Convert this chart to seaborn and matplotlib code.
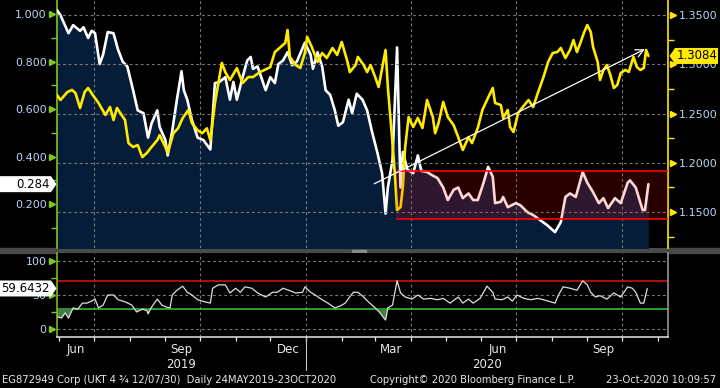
import pandas as pd
import matplotlib
matplotlib.use("Agg")
import matplotlib.pyplot as plt
import matplotlib.dates as mdates
from matplotlib.patches import Polygon, Rectangle
from matplotlib.transforms import IdentityTransform
import seaborn as sns

# x axis: day offsets from the first plotted day
start = pd.Timestamp("2019-05-30")
span_days = 530

# bond price index (left axis, white line with navy area)
white_days = [0, 3, 10, 14, 20, 23, 27, 30, 33, 37,
              40, 44, 49, 53, 57, 61, 66, 70, 75, 79,
              82, 87, 89, 94, 96, 100, 104, 108, 110, 113,
              117, 122, 127, 133, 137, 141, 146, 150, 153, 156,
              161, 165, 168, 170, 174, 181, 185, 189, 192, 196,
              200, 204, 208, 215, 220, 222, 226, 230, 233, 237,
              241, 244, 248, 253, 256, 260, 265, 269, 273, 278,
              282, 285, 287, 291, 295, 297, 298, 300, 304, 309,
              313, 316, 321, 326, 330, 335, 339, 344, 348, 352,
              357, 361, 365, 370, 374, 378, 380, 385, 387, 391,
              398, 402, 408, 413, 419, 425, 432, 437, 441, 445,
              450, 456, 460, 465, 470, 474, 478, 484, 489, 495,
              497, 502, 508, 510, 513]
white_vals = [1.017, 0.996, 0.92, 0.954, 0.93, 0.945, 0.90, 0.93, 0.92, 0.79,
              0.83, 0.925, 0.92, 0.85, 0.80, 0.78, 0.68, 0.595, 0.583, 0.48,
              0.54, 0.595, 0.525, 0.47, 0.405, 0.51, 0.64, 0.76, 0.68, 0.64,
              0.555, 0.48, 0.47, 0.43, 0.71, 0.715, 0.735, 0.64, 0.715, 0.64,
              0.735, 0.805, 0.82, 0.77, 0.78, 0.68, 0.735, 0.71, 0.79, 0.805,
              0.84, 0.785, 0.80, 0.88, 0.83, 0.77, 0.84, 0.78, 0.68, 0.66,
              0.595, 0.53, 0.545, 0.64, 0.583, 0.665, 0.64, 0.595, 0.51, 0.415,
              0.33, 0.16, 0.27, 0.385, 0.86, 0.455, 0.27, 0.42, 0.345, 0.33,
              0.405, 0.34, 0.335, 0.32, 0.31, 0.27, 0.217, 0.26, 0.27, 0.225,
              0.245, 0.217, 0.217, 0.29, 0.357, 0.315, 0.204, 0.21, 0.23, 0.187,
              0.204, 0.195, 0.166, 0.154, 0.133, 0.112, 0.082, 0.124, 0.23, 0.245,
              0.23, 0.335, 0.29, 0.25, 0.204, 0.225, 0.183, 0.225, 0.204, 0.29,
              0.30, 0.27, 0.175, 0.175, 0.284]

# GBPUSD (right axis, yellow)
fx_days = [0, 3, 9, 13, 16, 20, 24, 27, 31, 36,
           42, 46, 49, 52, 56, 59, 62, 66, 70, 74,
           78, 82, 87, 89, 94, 96, 101, 105, 109, 114,
           117, 122, 126, 130, 133, 137, 140, 143, 146, 150,
           156, 161, 166, 170, 176, 185, 189, 194, 198, 200,
           202, 207, 211, 215, 217, 221, 226, 230, 234, 239,
           243, 247, 252, 254, 259, 261, 266, 269, 272, 276,
           279, 285, 287, 291, 293, 295, 298, 300, 302, 305,
           309, 313, 317, 321, 326, 328, 331, 335, 339, 344,
           348, 352, 357, 360, 365, 369, 373, 378, 380, 385,
           387, 391, 393, 396, 400, 404, 409, 413, 418, 422,
           426, 430, 434, 437, 441, 445, 448, 451, 454, 457,
           460, 463, 465, 469, 471, 474, 477, 480, 483, 486,
           489, 493, 496, 500, 503, 506, 509, 511, 513]
fx_vals = [1.2688, 1.2637, 1.2718, 1.2739, 1.2708, 1.2556, 1.2718, 1.2759, 1.2688, 1.2607,
           1.2485, 1.2566, 1.2434, 1.2556, 1.2485, 1.2434, 1.2200, 1.2160, 1.2180, 1.2058,
           1.2100, 1.2160, 1.2230, 1.2280, 1.2160, 1.2100, 1.2300, 1.2350, 1.2454, 1.2536,
           1.2404, 1.2330, 1.2300, 1.2350, 1.2230, 1.2607, 1.2810, 1.3013, 1.2920, 1.2840,
           1.2960, 1.2810, 1.2870, 1.2870, 1.2920, 1.2970, 1.3124, 1.3175, 1.3216, 1.3348,
           1.3074, 1.2992, 1.2962, 1.3114, 1.3277, 1.3175, 1.3023, 1.3114, 1.3063, 1.3165,
           1.3094, 1.3226, 1.3023, 1.2920, 1.2992, 1.3074, 1.2992, 1.2920, 1.2992, 1.2870,
           1.2769, 1.3145, 1.2769, 1.2200, 1.1896, 1.1520, 1.1550, 1.1754, 1.2160, 1.2464,
           1.2363, 1.2454, 1.2353, 1.2637, 1.2464, 1.2300, 1.2404, 1.2617, 1.2464, 1.2383,
           1.2261, 1.2130, 1.2261, 1.2200, 1.2353, 1.2536, 1.2637, 1.2759, 1.2607, 1.2586,
           1.2454, 1.2536, 1.2363, 1.2312, 1.2505, 1.2566, 1.2637, 1.2566, 1.2739, 1.2870,
           1.3023, 1.3114, 1.3124, 1.3165, 1.3063, 1.3145, 1.3246, 1.3124, 1.3216, 1.3317,
           1.3398, 1.3327, 1.3175, 1.3023, 1.2840, 1.2942, 1.2992, 1.2890, 1.2759, 1.2790,
           1.2911, 1.2942, 1.2922, 1.3074, 1.2972, 1.2942, 1.2962, 1.3145, 1.3084]

# RSI (lower panel)
rsi_days = [0, 4, 7, 10, 14, 18, 22, 26, 30, 33,
            36, 40, 44, 49, 53, 59, 65, 69, 74, 78,
            79, 82, 87, 91, 95, 98, 100, 104, 109, 113,
            117, 122, 128, 133, 135, 140, 146, 150, 155, 159,
            163, 169, 174, 181, 187, 191, 196, 201, 207, 213,
            215, 220, 224, 230, 235, 241, 246, 250, 253, 257,
            261, 266, 270, 276, 280, 285, 287, 291, 295, 298,
            302, 308, 313, 318, 324, 330, 335, 341, 348, 352,
            357, 361, 367, 373, 378, 380, 386, 391, 395, 399,
            405, 411, 417, 422, 428, 432, 435, 439, 445, 451,
            456, 460, 463, 467, 471, 477, 483, 489, 495, 499,
            502, 506, 509, 512]
rsi_vals = [18, 16, 23.5, 16, 31, 29, 38, 38, 41, 44,
            31, 35, 50, 50, 43, 40, 35, 25, 29, 27,
            22, 32, 44, 35, 32, 31, 50, 57, 63, 54,
            50, 43, 40, 38, 60, 65, 65, 53, 60, 54,
            62, 60, 53, 47, 54, 54, 60, 57, 53, 54,
            62, 54, 50, 43, 38, 31, 34, 38, 45, 54,
            54, 47, 40, 31, 24, 13, 31, 35, 71, 53,
            47, 44, 50, 44, 45, 43, 45, 38, 47, 38,
            44, 38, 45, 63, 54, 44, 43, 47, 41, 50,
            45, 43, 45, 43, 40, 38, 50, 62, 60, 57,
            71, 65, 54, 47, 49, 44, 53, 47, 62, 60,
            54, 38, 38, 59.6432]

# annotations drawn on the chart (right-axis units)
box_start_day = 294
box_low, box_high = 1.1426, 1.1919
trend_from = (273, 1.1774)
trend_to = (512, 1.3165)
rsi_upper, rsi_lower = 70, 30

left_ticks = [0.2, 0.4, 0.6, 0.8, 1.0]
left_minor = [0.1, 0.3, 0.5, 0.7, 0.9]
right_ticks = [1.15, 1.20, 1.25, 1.30, 1.35]
right_minor = [1.125, 1.175, 1.225, 1.275, 1.325]
rsi_ticks = [0, 50, 100]
rsi_minor = [25, 75]
quarter_lines = ["2019-07-01", "2019-10-01", "2020-01-01", "2020-04-01", "2020-07-01", "2020-10-01"]
month_labels = ["Jun", "Sep", "Dec", "Mar", "Jun", "Sep"]
month_label_dates = ["2019-06-15", "2019-09-15", "2019-12-17", "2020-03-15", "2020-06-15", "2020-09-15"]
year_labels = ["2019", "2020"]
year_label_dates = ["2019-09-15", "2020-06-06"]
white_last, fx_last, rsi_last = "0.284", "1.3084", "59.6432"
footer_left = "EG872949 Corp (UKT 4 \u00be 12/07/30)  Daily 24MAY2019-23OCT2020"
footer_mid = "Copyright\u00a9 2020 Bloomberg Finance L.P."
footer_right = "23-Oct-2020 10:09:57"

sns.set_theme(style="dark", rc={"axes.facecolor": "black", "figure.facecolor": "black"})
plt.rcParams['font.family'] = ['DejaVu Sans']

GREEN = '#80c81e'
YELLOW = '#ffea00'
NAVY = '#061d3a'
LABEL = '#b8d4f4'
GRID = '#7a7a7a'
dash = (0, (2.5, 2.5))


def to_dates(days):
    return start + pd.to_timedelta(days, unit="D")


white_df = pd.DataFrame({"date": to_dates(white_days), "value": white_vals})
fx_df = pd.DataFrame({"date": to_dates(fx_days), "value": fx_vals})
rsi_df = pd.DataFrame({"date": to_dates(rsi_days), "value": rsi_vals})
x0, x1 = start, start + pd.Timedelta(days=span_days)

W, H = 720, 388
fig = plt.figure(figsize=(W / 100, H / 100), dpi=100, facecolor='black')
ax = fig.add_axes([57 / W, 1 - 248 / H, 611 / W, 248 / H])
ax2 = ax.twinx()
rax = fig.add_axes([57 / W, 1 - 337 / H, 611 / W, 84 / H])

# main panel
ax.fill_between(white_df['date'], white_df['value'], 0, color=NAVY, lw=0, zorder=1)
for q in quarter_lines:
    ax.axvline(pd.Timestamp(q), color=GRID, ls=dash, lw=0.8, zorder=2)
sns.lineplot(data=white_df, x='date', y='value', ax=ax, color='white', lw=1.9,
             estimator=None, sort=False, legend=False, zorder=3)
for t in right_ticks:
    ax2.axhline(t, color=GRID, ls=dash, lw=0.8, zorder=1)
sns.lineplot(data=fx_df, x='date', y='value', ax=ax2, color=YELLOW, lw=1.9,
             estimator=None, sort=False, legend=False, zorder=3)

# red range box and trend arrow
bd = start + pd.Timedelta(days=box_start_day)
ax2.fill_between([bd, x1], box_low, box_high, color='red', alpha=0.16, lw=0, zorder=6)
ax2.hlines([box_low, box_high], bd, x1, colors='red', lw=1.2, zorder=7)
ax2.annotate('', xy=(start + pd.Timedelta(days=trend_to[0]), trend_to[1]),
             xytext=(start + pd.Timedelta(days=trend_from[0]), trend_from[1]),
             arrowprops=dict(arrowstyle='->', color='white', lw=0.9, mutation_scale=14),
             zorder=8)

ax.set_xlim(x0, x1)
ax2.set_xlim(x0, x1)
ax.set_ylim(0.015, 1.06)
ax2.set_ylim(1.1135, 1.3652)

for a in (ax, ax2):
    a.set_xlabel('')
    a.set_ylabel('')
    a.tick_params(axis='x', bottom=False, labelbottom=False)
    a.grid(False)
    for s in a.spines.values():
        s.set_visible(False)

ax.spines['left'].set_visible(True)
ax.spines['left'].set_color(GREEN)
ax.spines['left'].set_linewidth(1.2)
ax.set_yticks(left_ticks)
ax.set_yticklabels([f"{t:.3f}" for t in left_ticks])
ax.set_yticks(left_minor, minor=True)
ax.tick_params(axis='y', which='major', length=0, pad=7.5, colors=LABEL, labelsize=8)
ax.tick_params(axis='y', which='minor', length=4, width=1, color=GREEN, direction='out', left=True)
ax.plot([-0.0075] * len(left_ticks), left_ticks, ls='none', marker='>', ms=5, color=GREEN,
        transform=ax.get_yaxis_transform(), clip_on=False)

ax2.spines['right'].set_visible(True)
ax2.spines['right'].set_color(YELLOW)
ax2.spines['right'].set_linewidth(1.2)
ax2.set_yticks(right_ticks)
ax2.set_yticklabels([f"{t:.4f}" for t in right_ticks])
ax2.set_yticks(right_minor, minor=True)
ax2.tick_params(axis='y', which='major', length=0, pad=7.5, colors=LABEL, labelsize=8)
ax2.tick_params(axis='y', which='minor', length=4, width=1, color=YELLOW, direction='out', right=True)
ax2.plot([1.0075] * len(right_ticks), right_ticks, ls='none', marker='>', ms=5, color=YELLOW,
         transform=ax2.get_yaxis_transform(), clip_on=False)

# lower RSI panel
for q in quarter_lines:
    rax.axvline(pd.Timestamp(q), color=GRID, ls=dash, lw=0.8, zorder=1)
for t in rsi_ticks:
    rax.axhline(t, color=GRID, ls=dash, lw=0.8, zorder=1)
rax.axhline(rsi_upper, color='#e01010', lw=1.1, zorder=2)
rax.axhline(rsi_lower, color='#30d030', lw=1.1, zorder=2)
rv = rsi_df['value']
rax.fill_between(rsi_df['date'], rv, rsi_lower, where=rv < rsi_lower, interpolate=True,
                 color='#3f7f3f', lw=0, zorder=2)
sns.lineplot(data=rsi_df, x='date', y='value', ax=rax, color='#dedede', lw=0.9,
             estimator=None, sort=False, legend=False, zorder=3)
rax.set_xlim(x0, x1)
rax.set_ylim(-12, 112)
rax.set_xlabel('')
rax.set_ylabel('')
rax.grid(False)
for side, col in [('left', GREEN), ('bottom', '#e8e8e8'), ('right', '#a0a0a0')]:
    rax.spines[side].set_visible(True)
    rax.spines[side].set_color(col)
    rax.spines[side].set_linewidth(1.1)
rax.spines['top'].set_visible(False)
rax.set_yticks(rsi_ticks)
rax.set_yticklabels([str(t) for t in rsi_ticks])
rax.set_yticks(rsi_minor, minor=True)
rax.tick_params(axis='y', which='major', length=0, pad=7.5, colors=LABEL, labelsize=8)
rax.tick_params(axis='y', which='minor', length=4, width=1, color=GREEN, direction='out', left=True)
rax.plot([-0.0075] * len(rsi_ticks), rsi_ticks, ls='none', marker='>', ms=5, color=GREEN,
         transform=rax.get_yaxis_transform(), clip_on=False)
rax.xaxis.set_major_locator(mdates.MonthLocator())
rax.xaxis.set_minor_locator(plt.NullLocator())
rax.tick_params(axis='x', which='major', length=3, width=0.9, color='#e8e8e8',
                direction='out', bottom=True, labelbottom=False)
xt = rax.get_xaxis_transform()
jan = pd.Timestamp("2020-01-01")
rax.plot([jan, jan], [0, -0.39], color='#c8c8c8', lw=0.8, transform=xt, clip_on=False)
for lab, d in zip(month_labels, month_label_dates):
    rax.text(pd.Timestamp(d), -0.15, lab, transform=xt, ha='center', va='center',
             color='#e8e8e8', fontsize=8.5)
for lab, d in zip(year_labels, year_label_dates):
    rax.text(pd.Timestamp(d), -0.33, lab, transform=xt, ha='center', va='center',
             color='#e8e8e8', fontsize=8.5)

# separator between panels
fig.add_artist(Rectangle((0, 1 - 253 / H), 1, 5 / H, transform=fig.transFigure,
                         color='#4a4a4a', zorder=0))
fig.add_artist(Rectangle((352 / W, 1 - 252 / H), 14 / W, 2 / H, transform=fig.transFigure,
                         color='#8a8a8a', zorder=0))


# last-value tags
def tag(axis, val, text, face, side):
    y = axis.transData.transform((0, val))[1]
    if side == 'left':
        pts = [(0, y + 8), (51, y + 8), (56.5, y), (51, y - 8), (0, y - 8)]
        tx, ha = 49.5, 'right'
    else:
        pts = [(669.5, y), (675, y + 8), (718, y + 8), (718, y - 8), (675, y - 8)]
        tx, ha = 697, 'center'
    fig.add_artist(Polygon(pts, closed=True, facecolor=face, edgecolor='none',
                           transform=IdentityTransform(), zorder=5))
    fig.text(tx, y, text, transform=IdentityTransform(), ha=ha, va='center',
             color='black', fontsize=8.5, zorder=6)


tag(ax, float(white_last), white_last, 'white', 'left')
tag(ax2, float(fx_last), fx_last, YELLOW, 'right')
tag(rax, float(rsi_last), rsi_last, 'white', 'left')

fig.text(2 / W, 1 - 380 / H, footer_left, ha='left', va='center', color='#e6e6e6', fontsize=7.2)
fig.text(370 / W, 1 - 380 / H, footer_mid, ha='left', va='center', color='#e6e6e6', fontsize=7.2)
fig.text(716 / W, 1 - 380 / H, footer_right, ha='right', va='center', color='#e6e6e6', fontsize=7.2)

fig.savefig('out.png', dpi=100, facecolor='black')
